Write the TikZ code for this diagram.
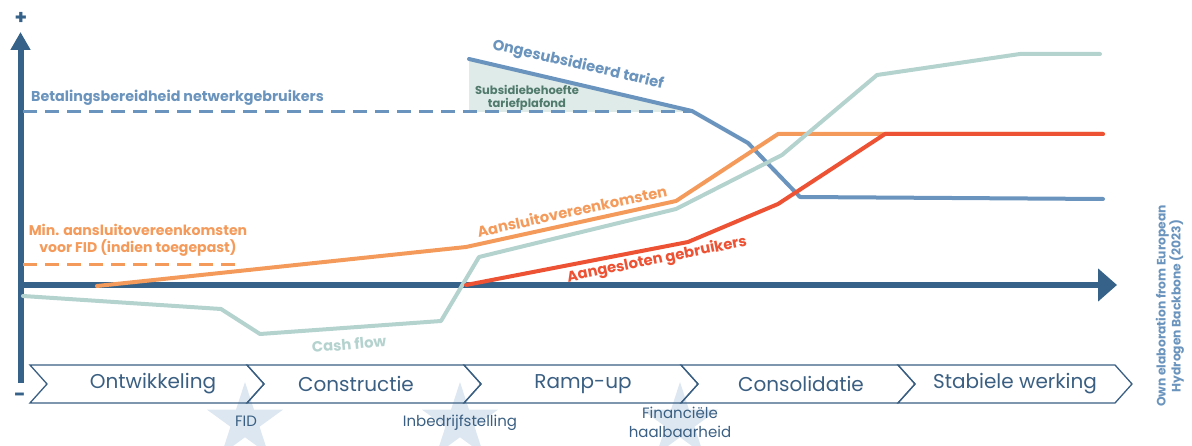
\documentclass[tikz,border=0pt]{standalone}
\usepackage{fontspec}
\setmainfont{Poppins}
\usetikzlibrary{arrows.meta,shapes.geometric}
\definecolor{axisblue}{HTML}{366289}
\definecolor{tarifblue}{HTML}{6A94BD}
\definecolor{fillgreen}{HTML}{DFEBE9}
\definecolor{subsgreen}{HTML}{507A6C}
\definecolor{orangeline}{HTML}{F49B5C}
\definecolor{redline}{HTML}{EE5234}
\definecolor{cashgreen}{HTML}{B4D2CE}
\definecolor{starblue}{HTML}{DDE7F1}
\definecolor{chevblue}{HTML}{3A5F82}
\tikzset{
	curve/.style={line width=4pt, line join=round, line cap=round},
	limit/.style={line width=3pt, dash pattern=on 14pt off 8pt},
	tag/.style={font=\bfseries\fontsize{14.8}{17}\selectfont, inner sep=0pt},
	phase/.style={draw=chevblue, line width=1.3pt},
	phasetext/.style={text=chevblue, font=\fontsize{20}{22}\selectfont, inner sep=0pt},
	milestone/.style={star, star points=5, star point ratio=2.618, minimum size=80pt, inner sep=0pt, fill=starblue},
	milelabel/.style={text=chevblue, font=\fontsize{15}{19}\selectfont, align=center, inner sep=0pt}
}

\begin{document}
\begin{tikzpicture}[x=1pt,y=-1pt]
			\useasboundingbox (0,0) rectangle (1192,446);
			%%%%% START %%%%%
			\foreach \mx/\mn in {245/fid,460/ibs,680/fin}
				\node[milestone] (star-\mn) at (\mx,422) {};
			
			\foreach \px [evaluate=\px as \qx using \px+217] in {30,247,464,681,898}
				\draw[phase] (\px,365) -- (\qx,365) -- (\qx+17,384) -- (\qx,403) -- (\px,403) -- (\px+17,384) -- cycle;
			
			\node[phasetext] (ontw) at (153,384) {Ontwikkeling};
			\node[phasetext] (constr) at (356,384) {Constructie};
			\node[phasetext] (ramp) at (583,384) {Ramp-up};
			\node[phasetext] (cons) at (801,384) {Consolidatie};
			\node[phasetext] (stab) at (1015,384) {Stabiele werking};
			
			\node[milelabel] (fid) at (246,421) {FID};
			\node[milelabel] (inbedrijf) at (460,423) {Inbedrijfstelling};
			\node[milelabel] (financieel) at (680,422) {Financiële\\haalbaarheid};
			
			% axes
			\draw[axisblue, line width=6pt, -{Triangle[length=18pt,width=19pt]}] (20.5,383) -- (20.5,32);
			\draw[axisblue, line width=6pt, -{Triangle[length=19pt,width=32pt]}] (18,285) -- (1117,285);
			\node[text=axisblue, font=\bfseries\fontsize{20}{20}\selectfont, inner sep=0pt] (plus) at (21,18) {+};
			\node[text=axisblue, font=\bfseries\fontsize{20}{20}\selectfont, inner sep=0pt] (minus) at (20,397) {-};
			
			% tarief
			\fill[fillgreen] (469,59) -- (692,112) -- (469,112) -- cycle;
			\draw[tarifblue, limit] (23,112) -- (692,112);
			\draw[curve, tarifblue] (469,59) -- (692,111) -- (748,143) -- (800,197) -- (1103,199);
			
			% aansluitingen
			\draw[orangeline, limit] (23,265) -- (235,265);
			\draw[curve, orangeline] (97,286) -- (466,247) -- (676,201) -- (778,134) -- (1103,134);
			\draw[curve, cashgreen] (23,296) -- (221,309) -- (260,334) -- (441,321) -- (479,257) -- (676,209) -- (782,155) -- (877,75) -- (1020,54) -- (1100,54);
			\draw[curve, redline] (466,285) -- (688,242) -- (778,204) -- (885,134) -- (1103,134);
			
			% labels
			\node[tag, text=tarifblue, font=\bfseries\fontsize{14.3}{16}\selectfont, anchor=west] (betaling) at (31,98) {Betalingsbereidheid netwerkgebruikers};
			\node[tag, text=tarifblue, rotate=-13] (ongesub) at (578,65) {Ongesubsidieerd tarief};
			\node[tag, text=subsgreen, font=\bfseries\fontsize{11.5}{13}\selectfont, align=center] (subsidie) at (527,98) {Subsidiebehoefte\\tariefplafond};
			\node[tag, text=orangeline, font=\bfseries\fontsize{14.1}{17}\selectfont, align=center] (minfid) at (138,240) {Min. aansluitovereenkomsten\\voor FID (indien toegepast)};
			\node[tag, text=orangeline, rotate=12.3] (aansluit) at (572,211) {Aansluitovereenkomsten};
			\node[tag, text=redline, rotate=11.5] (aangesloten) at (657,260) {Aangesloten gebruikers};
			\node[tag, text=cashgreen, rotate=5] (cash) at (349,344) {Cash flow};
			\node[tag, text=tarifblue, font=\bfseries\fontsize{12.3}{15}\selectfont, align=center, rotate=90] (bron) at (1170,306) {Own elaboration from European\\Hydrogen Backbone (2023)};
			%%%%% END %%%%%
\end{tikzpicture}
\end{document}
